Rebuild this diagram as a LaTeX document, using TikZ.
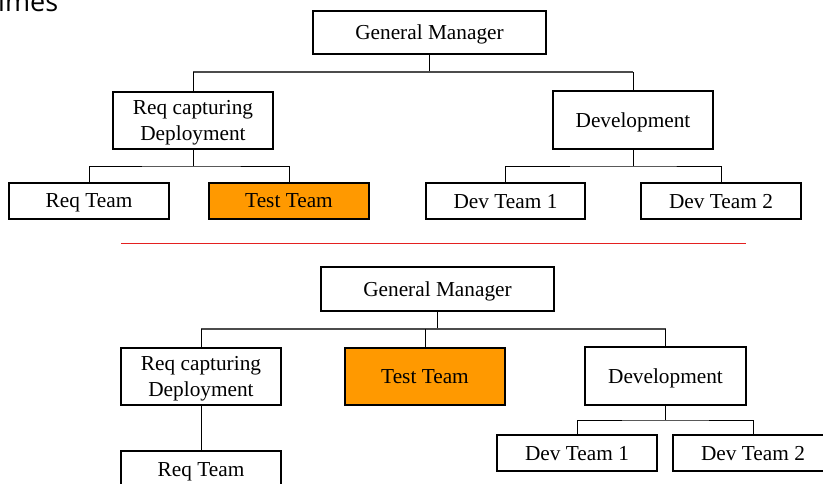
\documentclass[tikz,border=0pt]{standalone}
\usepackage{fontspec}
\setmainfont{Liberation Serif}
\newfontfamily\titlefont{Open Sans}
\definecolor{boxorange}{RGB}{255,153,0}
\definecolor{divred}{RGB}{228,32,32}
\begin{document}
\begin{tikzpicture}[x=1pt,y=-1pt,
  orgbox/.style={draw=black, line width=1.1pt, fill=white, inner sep=0pt,
    align=center, text depth=0pt, font=\fontsize{21.3}{25.7}\selectfont},
  hilite/.style={orgbox, fill=boxorange},
  link/.style={draw=black, line width=1pt},
  bus/.style={draw=black!70, line width=1.4pt}]
\clip (0,0) rectangle (823,483);
\fill[white] (0,0) rectangle (823,483);

% clipped title fragment
\node[anchor=base west, inner sep=0pt, font=\titlefont\fontsize{27}{30}\selectfont] (title) at (-2,11) {imes};

% ---------- upper chart ----------
\node[orgbox, minimum width=233pt, minimum height=43pt] (gm1) at (429.5,32.5) {General Manager};
\node[orgbox, minimum width=160pt, minimum height=57pt] (rc1) at (193,120.5) {Req capturing\\Deployment};
\node[orgbox, minimum width=160pt, minimum height=58pt] (dev1) at (633,120) {Development};
\node[orgbox, minimum width=160pt, minimum height=36pt] (rt1) at (89,201) {Req Team};
\node[hilite, minimum width=160pt, minimum height=36pt] (tt1) at (289,201) {Test Team};
\node[orgbox, minimum width=159pt, minimum height=36pt] (dt1) at (505.5,201) {Dev Team 1};
\node[orgbox, minimum width=160pt, minimum height=36pt] (dt2) at (721,201) {Dev Team 2};

\coordinate (b1) at (429.5,72);
\coordinate (b2) at (193,166);
\coordinate (b3) at (633,166);
\draw[link] (gm1.south) -- (b1);
\draw[bus] (rc1.north |- b1) -- (dev1.north |- b1);
\draw[link] (rc1.north) -- (rc1.north |- b1);
\draw[link] (dev1.north) -- (dev1.north |- b1);
\draw[link] (rc1.south) -- (b2);
\draw[link] (rt1.north) |- (b2) -| (tt1.north);
\draw[link] (dev1.south) -- (b3);
\draw[link] (dt1.north) |- (b3) -| (dt2.north);

% ---------- divider ----------
\coordinate (d1) at (121,243);
\coordinate (d2) at (746,243);
\draw[divred, line width=0.9pt] (d1) -- (d2);

% ---------- lower chart ----------
\node[orgbox, minimum width=233pt, minimum height=44pt] (gm2) at (437.5,289) {General Manager};
\node[orgbox, minimum width=160pt, minimum height=57pt] (rc2) at (201,376.5) {Req capturing\\Deployment};
\node[hilite, minimum width=160pt, minimum height=57pt] (tt2) at (425,376.5) {Test Team};
\node[orgbox, minimum width=161pt, minimum height=58pt] (dev2) at (665.5,376) {Development};
\node[orgbox, minimum width=160pt, minimum height=38pt] (rt2) at (201,470) {Req Team};
\node[orgbox, minimum width=160pt, minimum height=36pt] (dt3) at (577,453) {Dev Team 1};
\node[orgbox, minimum width=160pt, minimum height=36pt] (dt4) at (753,453) {Dev Team 2};

\coordinate (b4) at (437.5,329);
\coordinate (b5) at (665.5,420);
\draw[link] (gm2.south) -- (b4);
\draw[bus] (rc2.north |- b4) -- (dev2.north |- b4);
\draw[link] (rc2.north) -- (rc2.north |- b4);
\draw[link] (tt2.north) -- (tt2.north |- b4);
\draw[link] (dev2.north) -- (dev2.north |- b4);
\draw[link] (rc2.south) -- (rt2.north);
\draw[link] (dev2.south) -- (b5);
\draw[link] (dt3.north) |- (b5) -| (dt4.north);
\end{tikzpicture}
\end{document}
